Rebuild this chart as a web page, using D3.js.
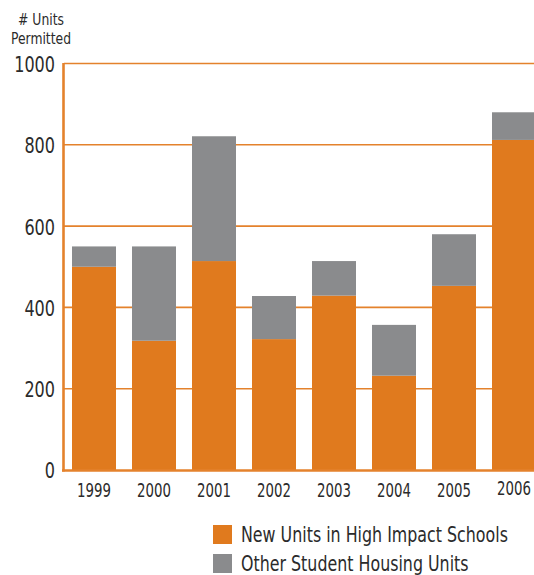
<!DOCTYPE html>
<html>
<head>
<meta charset="utf-8">
<script src="https://cdn.jsdelivr.net/npm/d3@7"></script>
<style>
  html, body { margin: 0; padding: 0; background: #fff; }
  svg { display: block; }
  text { font-family: 'DejaVu Sans Condensed', 'DejaVu Sans', sans-serif; font-stretch: semi-condensed; fill: #2b2b2b; }
</style>
</head>
<body>
<svg id="chart" width="534" height="575"></svg>
<script>
// Units permitted per year, split by category
const years = ["1999", "2000", "2001", "2002", "2003", "2004", "2005", "2006"];
const highImpact = [500, 318, 514, 322, 429, 232, 453, 812];
const otherHousing = [50, 232, 307, 106, 85, 125, 127, 68];
const yTicks = [0, 200, 400, 600, 800, 1000];
const seriesNames = ["New Units in High Impact Schools", "Other Student Housing Units"];
const seriesColors = ["#e07a1e", "#8a8b8d"];

const svg = d3.select("#chart");
const orange = "#e4822c";

const x = d3.scaleBand()
  .domain(years)
  .range([64, 544])
  .paddingInner(16 / 60)
  .paddingOuter(8 / 60);

const y = d3.scaleLinear()
  .domain([0, 1000])
  .range([470, 63.5]);

// Horizontal grid lines
svg.append("g")
  .selectAll("line")
  .data(yTicks.filter(d => d > 0))
  .join("line")
  .attr("x1", 64).attr("x2", 534)
  .attr("y1", d => y(d)).attr("y2", d => y(d))
  .attr("stroke", orange)
  .attr("stroke-width", 1.6);

// Stacked bars
const rows = years.map((yr, i) => ({ year: yr, high: highImpact[i], other: otherHousing[i] }));
const stack = d3.stack().keys(["high", "other"]);
const layers = stack(rows);

svg.append("g")
  .selectAll("g")
  .data(layers)
  .join("g")
  .attr("fill", (d, i) => seriesColors[i])
  .selectAll("rect")
  .data(d => d)
  .join("rect")
  .attr("x", d => x(d.data.year))
  .attr("width", x.bandwidth())
  .attr("y", d => y(d[1]))
  .attr("height", d => y(d[0]) - y(d[1]));

// Axis frame: baseline and left axis
svg.append("line")
  .attr("x1", 62).attr("x2", 534)
  .attr("y1", 470.5).attr("y2", 470.5)
  .attr("stroke", orange).attr("stroke-width", 2.6);
svg.append("line")
  .attr("x1", 63.5).attr("x2", 63.5)
  .attr("y1", 63).attr("y2", 471.5)
  .attr("stroke", orange).attr("stroke-width", 2.6);

// Y axis labels (horizontally squeezed for a narrow look)
const yAxis = d3.axisLeft(y).tickValues(yTicks).tickFormat(d3.format("d")).tickSize(0).tickPadding(0);
const gy = svg.append("g").attr("transform", "translate(55,0)").call(yAxis);
gy.select(".domain").remove();
gy.selectAll("text")
  .attr("font-size", 22)
  .attr("fill", "#2b2b2b")
  .attr("dy", "0.36em")
  .attr("transform", "scale(0.81,1)");

// X axis labels
const xAxis = d3.axisBottom(x).tickSize(0).tickPadding(0);
const gx = svg.append("g").attr("transform", "translate(0,497)").call(xAxis);
gx.select(".domain").remove();
gx.selectAll("text")
  .attr("font-size", 19)
  .attr("fill", "#2b2b2b")
  .attr("dy", 0)
  .attr("y", d => d === "2006" ? -2 : 0)
  .attr("transform", "scale(0.78,1)");

// Axis title
const title = svg.append("g")
  .attr("transform", "translate(41,0) scale(0.86,1)")
  .append("text")
  .attr("text-anchor", "middle")
  .attr("font-size", 16);
title.append("tspan").attr("x", 0).attr("y", 25).text("# Units");
title.append("tspan").attr("x", 0).attr("y", 44).text("Permitted");

// Legend
const legend = svg.append("g")
  .selectAll("g")
  .data(seriesNames)
  .join("g")
  .attr("transform", (d, i) => `translate(213,${525 + i * 29})`);
legend.append("rect")
  .attr("width", 19).attr("height", 19)
  .attr("fill", (d, i) => seriesColors[i]);
legend.append("text")
  .attr("transform", "translate(28,17) scale(0.84,1)")
  .attr("font-size", 21)
  .text(d => d);
</script>
</body>
</html>
